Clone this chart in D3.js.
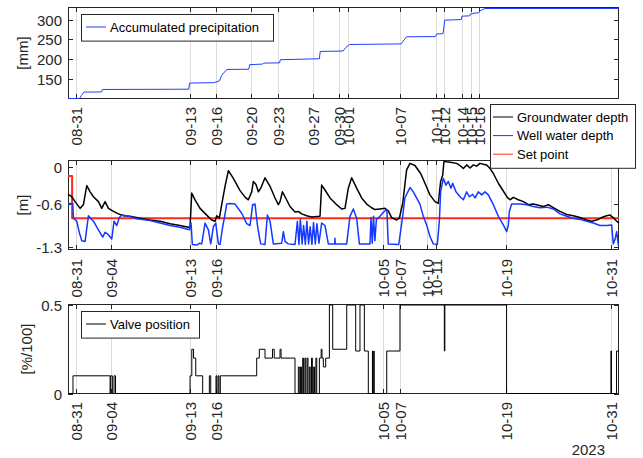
<!DOCTYPE html>
<html>
<head>
<meta charset="utf-8">
<script src="https://cdn.jsdelivr.net/npm/d3@7"></script>
<style>
body{margin:0;background:#fff;}
svg{font-family:"Liberation Sans",Arial,Helvetica,sans-serif;}
</style>
</head>
<body>
<svg id="chart" width="643" height="458"></svg>
<script>
// days counted from 2023-08-31 00:00
var precip = [[-0.92,100.5],[0.4,100.5],[0.6,108],[0.9,116.7],[2.9,117],[3.0,123.3],[12.85,124],[12.95,139.5],[15.7,140.5],[16.35,145],[16.6,159],[17.2,174],[19.7,174.5],[19.8,186],[21.3,187.5],[21.4,190],[23.2,190.5],[23.3,198.5],[27.75,201],[27.85,219.5],[30.45,220.5],[30.8,230],[31.2,237],[37.05,238.5],[37.7,256.5],[41.0,257],[41.1,263.5],[41.85,264.5],[42.05,298.5],[43.95,300],[44.0,308.5],[44.9,309.5],[44.95,313.5],[45.4,316],[45.95,317.5],[46.05,321.7],[46.4,326],[46.65,328],[61.92,328]];

var groundwater = [[-0.92,-0.44],[-0.49,-0.48],[-0.11,-0.56],[0.46,-0.67],[0.84,-0.61],[1.22,-0.30],[1.60,-0.40],[1.98,-0.48],[2.55,-0.56],[2.93,-0.67],[3.31,-0.56],[3.69,-0.67],[4.26,-0.72],[4.83,-0.76],[5.40,-0.79],[6.16,-0.80],[7.30,-0.83],[8.44,-0.86],[9.58,-0.88],[10.72,-0.92],[11.86,-0.95],[12.81,-0.98],[13.0,-0.97],[13.19,-0.42],[13.57,-0.53],[14.14,-0.67],[14.90,-0.78],[15.47,-0.86],[15.85,-0.88],[16.04,-0.79],[16.34,-0.83],[16.61,-0.61],[16.99,-0.31],[17.37,-0.055],[17.94,-0.18],[18.70,-0.38],[19.3,-0.49],[19.65,-0.53],[20.03,-0.40],[20.22,-0.23],[20.52,-0.28],[20.79,-0.40],[21.06,-0.34],[21.55,-0.17],[22.12,-0.31],[22.69,-0.50],[23.07,-0.61],[23.26,-0.56],[23.53,-0.40],[23.83,-0.48],[24.40,-0.64],[24.97,-0.73],[25.35,-0.72],[25.73,-0.76],[26.30,-0.79],[26.87,-0.81],[27.82,-0.80],[28.01,-0.29],[28.39,-0.37],[28.96,-0.50],[29.72,-0.61],[30.29,-0.68],[30.67,-0.67],[31.05,-0.34],[31.43,-0.17],[32.00,-0.34],[32.57,-0.50],[33.14,-0.60],[33.71,-0.66],[34.09,-0.69],[34.66,-0.68],[35.23,-0.67],[35.61,-0.71],[35.99,-0.82],[36.56,-0.86],[36.87,-0.83],[37.25,-0.59],[37.70,-0.04],[38.08,0.065],[38.65,0.03],[39.3,-0.10],[39.79,-0.26],[40.36,-0.45],[40.94,-0.56],[41.31,-0.59],[41.58,-0.23],[41.81,-0.13],[41.96,0.10],[42.27,0.09],[42.84,0.08],[43.41,0.065],[43.79,0.03],[44.17,-0.02],[44.55,0.04],[44.93,-0.01],[45.31,0.04],[45.69,0.02],[46.07,0.065],[46.45,0.05],[46.83,0.04],[47.21,-0.02],[47.59,-0.10],[48.16,-0.26],[48.65,-0.37],[49.18,-0.49],[49.49,-0.53],[49.87,-0.49],[50.44,-0.53],[51.01,-0.56],[51.58,-0.61],[52.15,-0.60],[52.72,-0.62],[53.29,-0.64],[53.86,-0.61],[54.43,-0.66],[55.19,-0.72],[55.95,-0.77],[56.71,-0.79],[57.47,-0.82],[58.23,-0.86],[58.80,-0.88],[59.37,-0.86],[59.94,-0.82],[60.51,-0.79],[60.89,-0.78],[61.27,-0.82],[61.65,-0.88],[61.92,-0.91]];

var wellwater = [[-0.92,-0.59],[-0.38,-0.59],[-0.30,-0.83],[0.08,-0.88],[0.38,-1.07],[0.65,-1.20],[1.03,-1.21],[1.41,-0.79],[1.98,-0.88],[2.55,-1.02],[3.04,-1.14],[3.31,-1.06],[3.69,-1.10],[4.07,-1.17],[4.33,-0.88],[4.64,-0.95],[4.94,-0.82],[5.21,-0.78],[5.78,-0.79],[6.92,-0.84],[8.44,-0.87],[9.58,-0.91],[10.72,-0.95],[11.86,-0.98],[12.92,-1.02],[13.11,-0.91],[13.26,-1.26],[13.76,-1.27],[14.06,-1.24],[14.33,-1.25],[14.71,-0.91],[15.09,-1.02],[15.36,-1.25],[15.66,-0.97],[15.93,-0.91],[16.23,-1.25],[16.42,-1.26],[16.72,-0.97],[16.91,-0.83],[17.18,-0.60],[17.56,-0.59],[18.13,-0.60],[18.89,-0.75],[19.46,-0.92],[19.84,-0.95],[20.14,-0.61],[20.41,-0.60],[20.68,-0.94],[20.90,-1.13],[21.06,-1.25],[21.55,-1.26],[21.82,-0.78],[22.12,-0.88],[22.50,-1.25],[23.45,-1.24],[23.64,-1.05],[23.83,-1.21],[24.2,-1.25],[24.97,-1.26],[25.24,-0.88],[25.42,-1.26],[25.58,-0.85],[25.78,-1.25],[25.95,-0.95],[26.15,-1.26],[26.32,-0.88],[26.52,-1.25],[26.7,-0.97],[26.9,-1.26],[27.08,-0.9],[27.28,-1.25],[27.47,-0.92],[27.7,-1.24],[28.01,-0.91],[28.39,-0.95],[28.77,-1.25],[29.5,-1.25],[29.53,-1.16],[29.56,-1.25],[30.86,-1.25],[31.24,-0.80],[31.62,-0.68],[32.00,-0.83],[32.31,-1.25],[33.52,-1.25],[33.64,-0.82],[33.78,-1.24],[33.92,-0.8],[34.08,-1.2],[34.25,-0.85],[34.66,-0.80],[35.0,-0.74],[35.3,-0.70],[35.45,-0.70],[35.6,-1.25],[36.8,-1.26],[37.25,-0.80],[37.5,-0.50],[38.08,-0.33],[38.46,-0.40],[39.22,-0.60],[39.60,-0.80],[39.98,-0.94],[40.36,-1.13],[40.74,-1.25],[41.20,-1.26],[41.43,-0.88],[41.58,-0.40],[41.88,-0.18],[42.19,-0.29],[42.45,-0.23],[42.76,-0.34],[42.95,-0.26],[43.33,-0.40],[43.79,-0.48],[44.17,-0.53],[44.55,-0.40],[44.85,-0.48],[45.23,-0.44],[45.50,-0.50],[45.88,-0.40],[46.26,-0.45],[46.64,-0.40],[47.02,-0.45],[47.59,-0.61],[48.16,-0.80],[48.73,-0.94],[49.11,-1.05],[49.30,-0.94],[49.41,-0.72],[49.68,-0.60],[50.63,-0.60],[51.39,-0.61],[52.15,-0.64],[52.91,-0.66],[53.67,-0.65],[54.43,-0.68],[55.19,-0.76],[55.95,-0.80],[56.71,-0.83],[57.47,-0.85],[58.23,-0.88],[58.99,-0.91],[59.75,-0.95],[60.51,-0.95],[61.08,-0.94],[61.27,-1.25],[61.46,-1.18],[61.65,-1.05],[61.84,-1.26],[61.92,-1.26]];

var setpoint = [[-0.92,-0.14],[-0.45,-0.14],[-0.45,-0.83],[61.92,-0.83]];

var valve = [[-0.92,0],[-0.35,0.1],[3.88,0],[3.95,0.1],[4.14,0],[4.33,0.1],[4.5,0],[13.0,0.1],[13.2,0.25],[13.4,0.2],[13.65,0.1],[14.44,0],[15.2,0.1],[15.36,0],[15.96,0.1],[16.05,0],[16.2,0.1],[16.3,0],[16.45,0.1],[20.6,0.2],[20.9,0.25],[21.55,0.2],[22.4,0.25],[22.6,0.2],[23.26,0.25],[23.38,0.2],[24.97,0],[25.35,0.15],[25.45,0],[25.6,0.15],[25.7,0],[25.85,0.2],[25.95,0],[26.1,0.2],[26.2,0],[26.35,0.2],[26.45,0],[26.6,0.15],[26.7,0],[26.85,0.2],[26.95,0],[27.1,0.15],[27.2,0],[27.35,0.2],[27.45,0],[27.75,0.2],[27.95,0.25],[28.05,0.2],[28.2,0.15],[28.47,0.2],[28.89,0.5],[29.27,0.25],[30.87,0.5],[31.89,0.24],[32.38,0.5],[32.88,0.24],[33.33,0],[33.8,0.24],[33.85,0],[33.95,0.24],[34.0,0],[35.43,0.24],[36.94,0.5],[42.0,0.24],[42.06,0.5],[49.1,0],[61.0,0.24],[61.06,0],[61.64,0.24],[61.92,0.24]];

var topTicks = ["08-31","09-13","09-16","09-20","09-23","09-27","09-30","10-01","10-07","10-11","10-12","10-14","10-15","10-16"];
var midTicks = ["08-31","09-04","09-13","09-16","10-05","10-07","10-10","10-11","10-19","10-31"];
var botTicks = ["08-31","09-04","09-13","09-16","10-05","10-07","10-19","10-31"];

var base = Date.UTC(2023,7,31);
function toDate(d){ return new Date(base + d*864e5); }
function tickDate(s){ var p=s.split("-"); return new Date(Date.UTC(2023,+p[0]-1,+p[1])); }

var svg = d3.select("#chart");
var axisCol = "#262626";
var left = 68, right = 619;

var x = d3.scaleUtc()
	.domain([toDate(-0.92), toDate(61.92)])
	.range([left, right]);

function panel(o){
	var g = svg.append("g");
	var y = o.y;
	// grid
	o.ticks.forEach(function(t){
		var xx = Math.round(x(tickDate(t)))+0.5;
		g.append("line").attr("x1",xx).attr("x2",xx).attr("y1",o.top).attr("y2",o.bottom)
			.attr("stroke","#dcdcdc").attr("stroke-width",1);
	});
	// box (drawn under the data, like matlab)
	g.append("rect").attr("x",left+0.5).attr("y",o.top+0.5)
		.attr("width",right-left-1).attr("height",o.bottom-o.top-1)
		.attr("fill","none").attr("stroke",axisCol).attr("stroke-width",1);
	// x ticks
	o.ticks.forEach(function(t){
		var xx = Math.round(x(tickDate(t)))+0.5;
		g.append("line").attr("x1",xx).attr("x2",xx).attr("y1",o.bottom).attr("y2",o.bottom-5).attr("stroke",axisCol);
		g.append("line").attr("x1",xx).attr("x2",xx).attr("y1",o.top).attr("y2",o.top+5).attr("stroke",axisCol);
		g.append("text")
			.attr("transform","translate("+(xx)+","+(o.bottom+o.lab)+") rotate(-90)")
			.attr("text-anchor","end").attr("dy","0.36em")
			.attr("font-size",15).attr("fill",axisCol)
			.text(t);
	});
	// y ticks
	o.yTicks.forEach(function(v,i){
		var yy = Math.round(y(v))+0.5;
		g.append("line").attr("x1",left).attr("x2",left+5).attr("y1",yy).attr("y2",yy).attr("stroke",axisCol);
		g.append("line").attr("x1",right).attr("x2",right-5).attr("y1",yy).attr("y2",yy).attr("stroke",axisCol);
		g.append("text").attr("x",left-6).attr("y",yy).attr("dy","0.36em")
			.attr("text-anchor","end").attr("font-size",15).attr("fill",axisCol)
			.text(o.yLabels[i]);
	});
	g.append("text")
		.attr("transform","translate("+o.labX+","+((o.top+o.bottom)/2)+") rotate(-90)")
		.attr("text-anchor","middle").attr("dy","0.36em")
		.attr("font-size",15).attr("fill",axisCol)
		.text(o.label);
	// data
	o.series.forEach(function(s){
		var line = d3.line()
			.x(function(d){ return x(toDate(d[0])); })
			.y(function(d){ return y(d[1]); });
		if(s.step) line.curve(d3.curveStepAfter);
		g.append("path").datum(s.data)
			.attr("d", line)
			.attr("fill","none")
			.attr("stroke", s.color)
			.attr("stroke-width", s.width)
			.attr("stroke-linejoin","round");
	});
}

function legend(x0,y0,w,items){
	var h = 8 + items.length*18.6;
	var g = svg.append("g");
	g.append("rect").attr("x",x0+0.5).attr("y",y0+0.5).attr("width",w).attr("height",h)
		.attr("fill","#fff").attr("stroke",axisCol).attr("stroke-width",1);
	items.forEach(function(it,i){
		var yy = y0 + 13 + i*18.6;
		g.append("line").attr("x1",x0+it.lx).attr("x2",x0+it.lx+20).attr("y1",yy).attr("y2",yy)
			.attr("stroke",it.color).attr("stroke-width",1);
		g.append("text").attr("x",x0+it.lx+24).attr("y",yy).attr("dy","0.36em")
			.attr("font-size",13).attr("fill","#000").text(it.name);
	});
}

// top panel
var yTop = d3.scaleLinear().domain(d3.extent(precip,function(d){return d[1];})).range([98.5,8.5]);
panel({top:7,bottom:99,y:yTop,ticks:topTicks,lab:8,
	yTicks:[150,200,250,300],yLabels:["150","200","250","300"],label:"[mm]",labX:23,
	series:[{data:precip,color:"#1f3dff",width:1}]});

// middle panel
var yMid = d3.scaleLinear().domain([-1.35,0.12]).range([250,160]);
panel({top:160,bottom:250,y:yMid,ticks:midTicks,lab:9,
	yTicks:[0,-0.6,-1.3],yLabels:["0","-0.6","-1.3"],label:"[m]",labX:23,
	series:[
		{data:setpoint,color:"#ff2a1a",width:2},
		{data:groundwater,color:"#000",width:1.5},
		{data:wellwater,color:"#1438ff",width:1.5}
	]});

// bottom panel
var yBot = d3.scaleLinear().domain([0,0.5]).range([393.5,305]);
panel({top:304,bottom:394,y:yBot,ticks:botTicks,lab:8,
	yTicks:[0,0.5],yLabels:["0","0.5"],label:"[%/100]",labX:27,
	series:[{data:valve,color:"#000",width:1,step:true}]});

legend(81,14,192,[{name:"Accumulated precipitation",color:"#1f3dff",lx:5}]);
legend(490,104,145,[
	{name:"Groundwater depth",color:"#000",lx:3},
	{name:"Well water depth",color:"#1438ff",lx:3},
	{name:"Set point",color:"#ff2a1a",lx:3}
]);
legend(81,311,118,[{name:"Valve position",color:"#000",lx:5}]);

svg.append("text").attr("x",605).attr("y",455).attr("text-anchor","end")
	.attr("font-size",15).attr("fill",axisCol).text("2023");
</script>
</body>
</html>
